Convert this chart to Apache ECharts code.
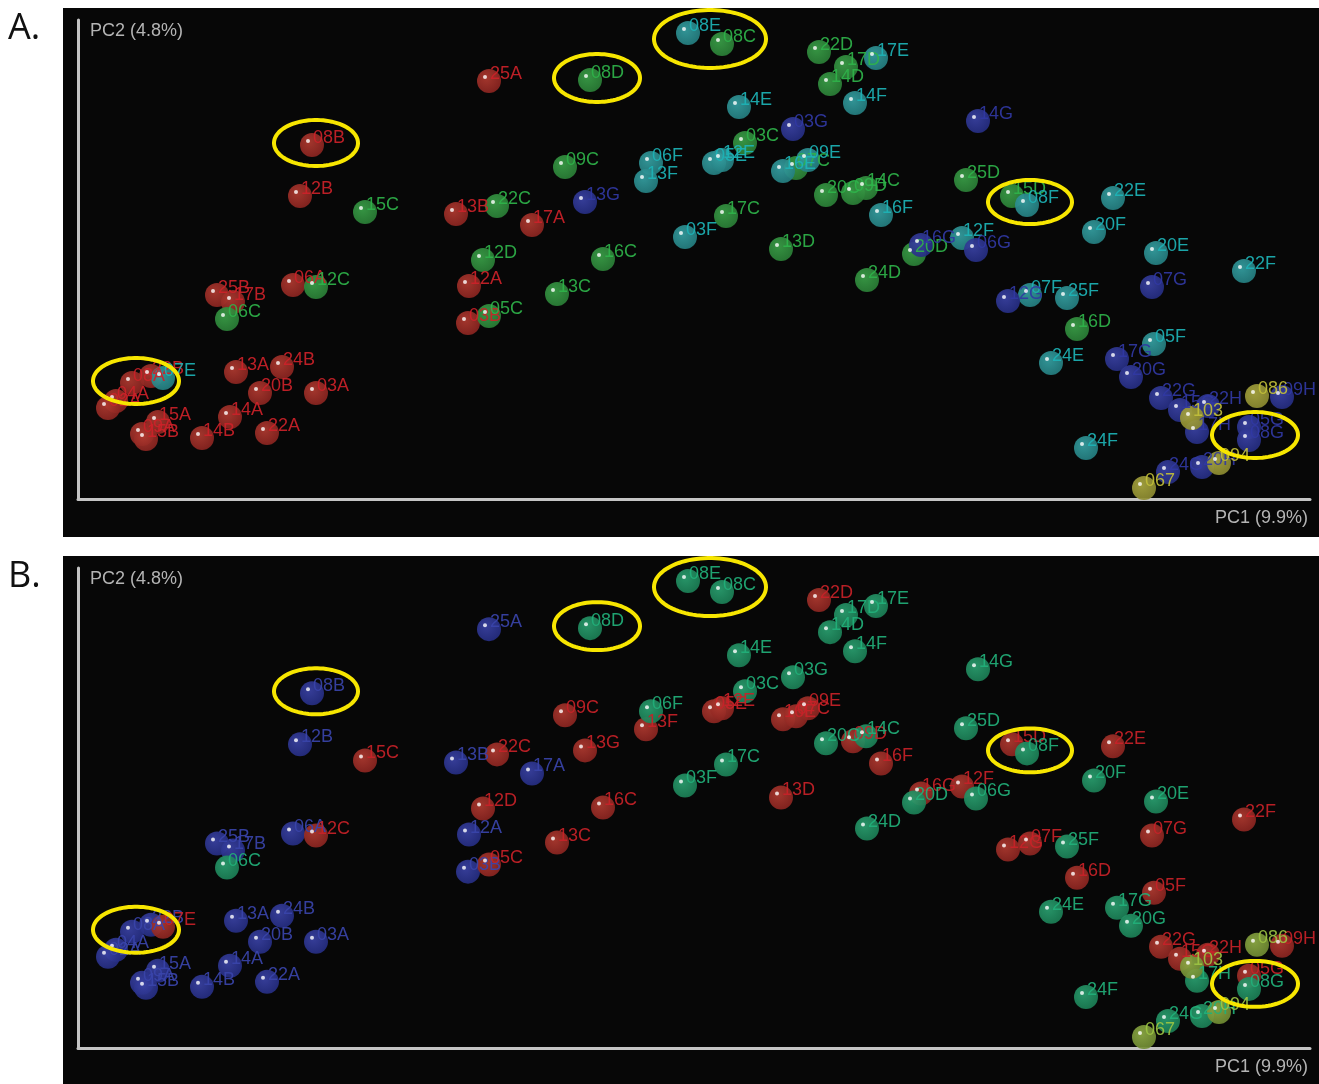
<!DOCTYPE html>
<html>
<head>
<meta charset="utf-8">
<script src="https://cdn.jsdelivr.net/npm/echarts@6/dist/echarts.min.js"></script>
<style>
  html, body { margin: 0; padding: 0; background: #fff; }
  #pcoa { width: 1319px; height: 1084px; }
</style>
</head>
<body>
<div id="pcoa"></div>
<script>
// sample names and PCoA scores (arbitrary units)
const sampleNames = [
  '08B', '12B', '15C', '08E', '25A', '08D', '09C', '06F', '13F', '13G',
  '22C', '13B', '17A', '03F', '12D', '16C', '12A', '13C', '05C', '03B',
  '08C', '22D', '17E', '17D', '14D', '14F', '14E', '03G', '14G', '03C',
  '05E', '12E', '16E', '07C', '09E', '20C', '09D', '14C', '17C', '16F',
  '25D', '15D', '08F', '13D', '16G', '20D', '12F', '06G', '24D', '12G',
  '22E', '20F', '20E', '22F', '07F', '25F', '07G', '16D', '05F', '24E',
  '17G', '20G', '22G', '15G', '22H', '103', '17H', '086', '09H', '05G',
  '08G', '24F', '24G', '20H', '094', '067', '06A', '12C', '25B', '17B',
  '06C', '13A', '24B', '20B', '03A', '08A', '22B', '07E', '04A', '02A',
  '15A', '09A', '15B', '14A', '14B', '22A'
]
const pc1 = [
  23.4, 22.2, 28.7, 61.0, 41.1, 51.2, 48.7, 57.3, 56.8, 50.7,
  41.9, 37.8, 45.4, 60.7, 40.5, 52.5, 39.1, 47.9, 41.1, 39.0,
  64.4, 74.1, 79.8, 76.8, 75.2, 77.7, 66.1, 71.5, 90.0, 66.7,
  63.6, 64.4, 70.5, 71.8, 73.0, 74.8, 77.5, 78.8, 64.8, 80.3,
  88.8, 93.4, 94.9, 70.3, 84.3, 83.6, 88.4, 89.8, 78.9, 93.0,
  103.5, 101.6, 107.8, 116.6, 95.2, 98.9, 107.4, 99.9, 107.6, 97.3,
  103.9, 105.3, 108.3, 110.2, 113.0, 111.4, 111.9, 117.9, 120.4, 117.1,
  117.1, 100.8, 109.0, 112.4, 114.1, 106.6, 21.5, 23.8, 13.9, 15.5,
  14.9, 15.8, 20.4, 18.2, 23.8, 5.4, 7.3, 8.5, 3.8, 3.0,
  8.0, 6.4, 6.8, 15.2, 12.4, 18.9
]
const pc2 = [
  35.4, 30.3, 28.7, 46.6, 41.8, 41.9, 33.2, 33.6, 31.8, 29.7,
  29.3, 28.5, 27.4, 26.2, 23.9, 24.0, 21.3, 20.5, 18.3, 17.6,
  45.5, 44.7, 44.1, 43.2, 41.5, 39.6, 39.2, 37.0, 37.8, 35.6,
  33.6, 33.9, 32.8, 33.1, 33.9, 30.4, 30.6, 31.1, 28.3, 28.4,
  31.9, 30.3, 29.4, 25.0, 25.4, 24.5, 26.1, 24.9, 21.9, 19.8,
  30.1, 26.7, 24.6, 22.8, 20.4, 20.1, 21.2, 17.0, 15.5, 13.6,
  14.0, 12.2, 10.1, 8.9, 9.3, 8.1, 6.7, 10.3, 10.2, 7.2,
  5.9, 5.1, 2.7, 3.2, 3.6, 1.1, 21.4, 21.2, 20.4, 19.7,
  18.0, 12.7, 13.2, 10.6, 10.6, 11.6, 12.3, 12.1, 9.8, 9.1,
  7.7, 6.5, 6.0, 8.2, 6.1, 6.6
]
// circled subject-08 samples
const ringPc1 = [23.8, 51.9, 63.2, 95.2, 5.8, 117.7]
const ringPc2 = [35.6, 42.1, 46.0, 29.7, 11.8, 6.4]
// subjects drawn red in panel B
const redSubjects = ['05', '07', '09', '12', '13', '15', '16', '22']

const ringRadius = [[42, 23], [43, 24], [56, 29], [42, 22], [43, 23], [43, 23]]

const siteGroup = (name) => {
  if (/^\d+$/.test(name)) return 'num'
  const s = name[2]
  if (s === 'A' || s === 'B') return 'AB'
  if (s === 'C' || s === 'D') return 'CD'
  if (s === 'E' || s === 'F') return 'EF'
  return 'GH'
}
const subjectGroup = (name) => {
  const g = siteGroup(name)
  if (g === 'num') return 'num'
  if (g === 'AB') return 'blue'
  return redSubjects.includes(name.slice(0, 2)) ? 'red' : 'green'
}

const paletteA = {
  AB: { light: '#b03a30', base: '#8a2420', text: '#cc2229' },
  CD: { light: '#3aa048', base: '#2a7e36', text: '#2fb34a' },
  EF: { light: '#35a0a2', base: '#247e80', text: '#1db3b6' },
  GH: { light: '#3a42a4', base: '#252d82', text: '#3138a3' },
  num: { light: '#aaa840', base: '#8c8a30', text: '#c2bf3a' }
}
const paletteB = {
  blue: { light: '#3a42a4', base: '#252d82', text: '#3a44aa' },
  red: { light: '#b03a30', base: '#8a2420', text: '#c82228' },
  green: { light: '#2aa070', base: '#1b7e55', text: '#22b07a' },
  num: { light: '#8eac45', base: '#6f8a32', text: '#9cc443' }
}

const points = sampleNames.map((name, i) => ({ name, value: [pc1[i], pc2[i]] }))

function groupSeries (gridIndex, palette, grouper) {
  return Object.keys(palette).map(key => {
    const c = palette[key]
    return {
      type: 'scatter',
      xAxisIndex: gridIndex,
      yAxisIndex: gridIndex,
      symbolSize: 24,
      itemStyle: {
        opacity: 0.92,
        color: {
          type: 'radial',
          x: 0.4,
          y: 0.38,
          r: 0.65,
          colorStops: [{ offset: 0, color: c.light }, { offset: 1, color: c.base }]
        }
      },
      label: {
        show: true,
        formatter: '{b}',
        position: [13, 5],
        align: 'left',
        verticalAlign: 'middle',
        color: c.text,
        fontSize: 18,
        fontFamily: 'Liberation Sans'
      },
      emphasis: { disabled: true },
      data: points.filter(p => grouper(p.name) === key)
    }
  })
}

function highlightSeries (gridIndex) {
  return {
    type: 'scatter',
    xAxisIndex: gridIndex,
    yAxisIndex: gridIndex,
    symbolSize: 4,
    symbolOffset: [-4, -4],
    silent: true,
    z: 3,
    itemStyle: { color: '#fff' },
    data: points.map(p => p.value)
  }
}

function ringSeries (gridIndex) {
  return {
    type: 'custom',
    xAxisIndex: gridIndex,
    yAxisIndex: gridIndex,
    silent: true,
    z: 5,
    renderItem: (params, api) => {
      const c = api.coord([api.value(0), api.value(1)])
      const [rx, ry] = ringRadius[params.dataIndex]
      const pts = []
      for (let k = 0; k < 90; k++) {
        const t = k / 90 * Math.PI * 2
        pts.push([c[0] + rx * Math.cos(t), c[1] + ry * Math.sin(t)])
      }
      return {
        type: 'polygon',
        shape: { points: pts },
        style: { fill: 'none', stroke: '#f7e600', lineWidth: 4 }
      }
    },
    data: ringPc1.map((x, i) => [x, ringPc2[i]])
  }
}

const axisLine = { show: true, onZero: false, lineStyle: { color: '#c4c4c4', width: 3 } }
const xAxisBase = {
  type: 'value',
  min: 0,
  max: 123.2,
  axisLine,
  axisTick: { show: false },
  axisLabel: { show: false },
  splitLine: { show: false },
  name: 'PC1 (9.9%)',
  nameLocation: 'end',
  nameGap: -2,
  nameTextStyle: {
    color: '#b4b4b4',
    fontSize: 18,
    fontFamily: 'Liberation Sans',
    align: 'right',
    verticalAlign: 'top',
    padding: [10, 0, 0, 0]
  }
}
const yAxisBase = {
  type: 'value',
  min: 0,
  max: 47.9,
  axisLine,
  axisTick: { show: false },
  axisLabel: { show: false },
  splitLine: { show: false },
  name: 'PC2 (4.8%)',
  nameLocation: 'end',
  nameGap: -2,
  nameTextStyle: {
    color: '#b4b4b4',
    fontSize: 18,
    fontFamily: 'Liberation Sans',
    align: 'left',
    verticalAlign: 'top',
    padding: [0, 0, 0, 12]
  }
}

const option = {
  backgroundColor: '#fff',
  animation: false,
  graphic: [
    { type: 'rect', z: -1, shape: { x: 63, y: 8, width: 1256, height: 529 }, style: { fill: '#070707' } },
    { type: 'rect', z: -1, shape: { x: 63, y: 556, width: 1256, height: 528 }, style: { fill: '#070707' } },
    { type: 'text', left: 8, top: 11, style: { text: 'A.', fill: '#111', font: '36px "Open Sans"' } },
    { type: 'text', left: 8, top: 559, style: { text: 'B.', fill: '#111', font: '36px "Open Sans"' } }
  ],
  grid: [
    { left: 78, top: 20, width: 1232, height: 479 },
    { left: 78, top: 568, width: 1232, height: 480 }
  ],
  xAxis: [
    Object.assign({ gridIndex: 0 }, xAxisBase),
    Object.assign({ gridIndex: 1 }, xAxisBase)
  ],
  yAxis: [
    Object.assign({ gridIndex: 0 }, yAxisBase),
    Object.assign({ gridIndex: 1 }, yAxisBase)
  ],
  series: [
    ...groupSeries(0, paletteA, siteGroup),
    highlightSeries(0),
    ringSeries(0),
    ...groupSeries(1, paletteB, subjectGroup),
    highlightSeries(1),
    ringSeries(1)
  ]
}

const chart = echarts.init(document.getElementById('pcoa'))
chart.setOption(option)
</script>
</body>
</html>
